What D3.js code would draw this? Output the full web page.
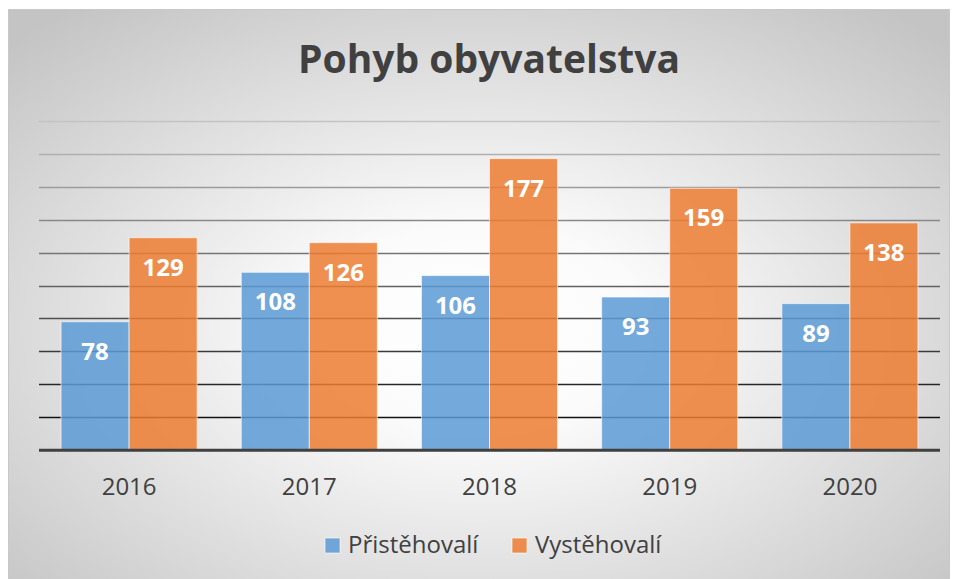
<!DOCTYPE html>
<html>
<head>
<meta charset="utf-8">
<script src="https://cdn.jsdelivr.net/npm/d3@7"></script>
<style>
  body { margin: 0; background: #fff; }
  text { font-family: "Open Sans", sans-serif; }
</style>
</head>
<body>
<div id="chart"></div>
<script>
// data
const years = ["2016", "2017", "2018", "2019", "2020"]
const prist = [78, 108, 106, 93, 89]
const vyst = [129, 126, 177, 159, 138]
const seriesNames = ["Přistěhovalí", "Vystěhovalí"]
const seriesColors = ["#5b9bd5", "#ed7d31"]
const yTicks = d3.range(0, 201, 20)

const W = 960, H = 579
const margin = {top: 120.7, right: 20, bottom: 129, left: 39}
const plotRight = 940

let svg = d3.select("#chart").append("svg")
    .attr("width", W)
    .attr("height", H)

let defs = svg.append("defs")
let bg = defs.append("radialGradient")
    .attr("id", "bg")
    .attr("cx", "50%").attr("cy", "55%").attr("r", "70%")
bg.append("stop").attr("offset", "0%").attr("stop-color", "#ffffff")
bg.append("stop").attr("offset", "25%").attr("stop-color", "#fbfbfb")
bg.append("stop").attr("offset", "100%").attr("stop-color", "#c4c4c4")

let gridGrad = defs.append("linearGradient")
    .attr("id", "gridGrad")
    .attr("gradientUnits", "userSpaceOnUse")
    .attr("x1", 0).attr("x2", 0)
    .attr("y1", 120).attr("y2", 450)
gridGrad.append("stop").attr("offset", "0%").attr("stop-color", "#c4c4c4")
gridGrad.append("stop").attr("offset", "100%").attr("stop-color", "#000000")

// chart frame
svg.append("rect")
    .attr("x", 8.5).attr("y", 9.5)
    .attr("width", 941).attr("height", 580)
    .attr("fill", "url(#bg)")
    .attr("stroke", "#c8c8c8")
    .attr("stroke-width", 1)

let x0 = d3.scaleBand()
    .domain(years)
    .range([margin.left, plotRight])
    .paddingInner(0.245)
    .paddingOuter(0.1225)

let x1 = d3.scaleBand()
    .domain([0, 1])
    .range([0, x0.bandwidth()])

let y = d3.scaleLinear()
    .domain([0, 200])
    .range([450.3, margin.top])

// gridlines
svg.append("g")
    .selectAll("line")
    .data(yTicks.filter(d => d > 0))
    .enter()
    .append("line")
      .attr("x1", margin.left)
      .attr("x2", plotRight)
      .attr("y1", d => Math.round(y(d)) + 0.5)
      .attr("y2", d => Math.round(y(d)) + 0.5)
      .attr("stroke", "url(#gridGrad)")
      .attr("stroke-width", 1.5)

// bars
let rows = years.map((yr, i) => ({year: yr, vals: [prist[i], vyst[i]]}))

let groups = svg.append("g")
    .selectAll("g")
    .data(rows)
    .enter()
    .append("g")
      .attr("transform", d => "translate(" + x0(d.year) + ",0)")

groups.selectAll("rect")
    .data(d => d.vals.map((v, s) => ({v: v, s: s})))
    .enter()
    .append("rect")
      .attr("x", d => x1(d.s))
      .attr("y", d => y(d.v))
      .attr("width", x1.bandwidth())
      .attr("height", d => y(0) - y(d.v))
      .attr("fill", d => seriesColors[d.s])
      .attr("fill-opacity", 0.85)
      .attr("stroke", "#ffffff")
      .attr("stroke-opacity", 0.6)
      .attr("stroke-width", 1)

groups.selectAll("text")
    .data(d => d.vals.map((v, s) => ({v: v, s: s})))
    .enter()
    .append("text")
      .attr("x", d => x1(d.s) + x1.bandwidth() / 2)
      .attr("y", d => y(d.v) + 38)
      .attr("text-anchor", "middle")
      .attr("fill", "#ffffff")
      .style("font-size", "24px")
      .style("font-weight", "bold")
      .text(d => d.v)

// baseline
svg.append("line")
    .attr("x1", margin.left).attr("x2", plotRight)
    .attr("y1", y(0)).attr("y2", y(0))
    .attr("stroke", "#404040")
    .attr("stroke-width", 3)

// x axis labels
let xAxis = d3.axisBottom(x0).tickSize(0).tickPadding(0)
let xg = svg.append("g")
    .attr("transform", "translate(0," + 495 + ")")
    .call(xAxis)
xg.select(".domain").remove()
xg.selectAll("text")
    .attr("dy", 0)
    .attr("y", 0)
    .attr("fill", "#404040")
    .style("font-size", "24px")
    .style("font-family", "'Open Sans', sans-serif")

// title
svg.append("text")
    .attr("x", 489)
    .attr("y", 73)
    .attr("text-anchor", "middle")
    .attr("fill", "#404040")
    .style("font-size", "39px")
    .style("font-weight", "bold")
    .text("Pohyb obyvatelstva")

// legend
let legendX = [325, 512]
let legend = svg.append("g")
    .selectAll("g")
    .data(seriesNames)
    .enter()
    .append("g")
      .attr("transform", (d, i) => "translate(" + legendX[i] + ",538)")
legend.append("rect")
    .attr("width", 15).attr("height", 15)
    .attr("fill", (d, i) => seriesColors[i])
    .attr("fill-opacity", 0.85)
    .attr("stroke", "#ffffff")
    .attr("stroke-opacity", 0.6)
legend.append("text")
    .attr("x", 23)
    .attr("y", 15)
    .attr("fill", "#404040")
    .style("font-size", "24px")
    .text(d => d)
</script>
</body>
</html>
